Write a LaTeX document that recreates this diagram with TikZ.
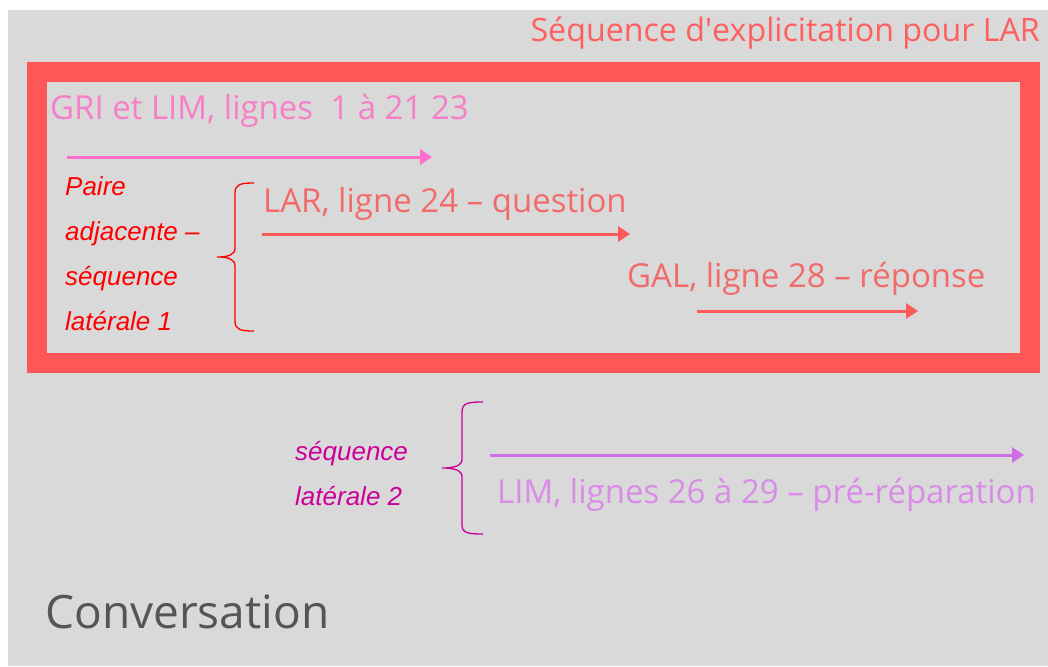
\documentclass[tikz,border=0pt]{standalone}
\usepackage{fontspec}
\setmainfont{Open Sans}
\newfontfamily\armain{Liberation Sans}
\usetikzlibrary{arrows.meta}
\definecolor{bgray}{HTML}{D9D9D9}
\definecolor{framered}{HTML}{FF5757}
\definecolor{titlered}{HTML}{FF5F5F}
\definecolor{pinktxt}{HTML}{F77FC8}
\definecolor{pinkarr}{HTML}{FF6ECF}
\definecolor{salmontxt}{HTML}{F26B6B}
\definecolor{salmonarr}{HTML}{FF5A5A}
\definecolor{violettxt}{HTML}{D98CE6}
\definecolor{violetarr}{HTML}{CF6FE8}
\definecolor{mag}{HTML}{CC0099}
\definecolor{convgray}{HTML}{555555}
\tikzset{
  lbl/.style={anchor=base west, inner sep=0pt, font=\fontsize{33}{33}\selectfont},
  ital/.style={anchor=base west, inner sep=0pt, font=\armain\itshape\fontsize{26}{26}\selectfont},
  arr/.style={line width=3pt, -{Triangle[length=12pt,width=15pt]}},
  brace/.style={line width=1.3pt}
}
\begin{document}
\begin{tikzpicture}[x=1pt,y=-1pt]
\useasboundingbox (0,0) rectangle (1048,666);
\fill[white] (0,0) rectangle (1048,666);
\fill[bgray] (8,10) rectangle (1048,666);
% red frame
\draw[framered, line width=20pt] (37,72) rectangle (1030,363);
% title
\node[anchor=base east, inner sep=0pt, font=\fontsize{32.2}{32.2}\selectfont, text=titlered] (title) at (1040,42) {Séquence d\textquotesingle explicitation pour LAR};
% GRI
\node[lbl, text=pinktxt] (gri) at (50,120) {GRI et LIM, lignes \ 1 à 21 23};
\coordinate (g1) at (67,157);
\coordinate (g2) at (432,157);
\draw[arr, pinkarr] (g1) -- (g2);
% italic labels 1
\node[ital, text=red] (p1) at (65,195) {Paire};
\node[ital, text=red] (p2) at (65,240) {adjacente –};
\node[ital, text=red] (p3) at (65,285) {séquence};
\node[ital, text=red] (p4) at (65,330) {latérale 1};
% brace 1
\draw[brace, red] (254,183) .. controls (241,183) and (235,184) .. (235,193) -- (235,248)
  .. controls (235,255) and (228,257) .. (217,257)
  .. controls (228,257) and (235,259) .. (235,266) -- (235,321)
  .. controls (235,330) and (241,331) .. (254,331);
% LAR
\node[lbl, text=salmontxt] (lar) at (263,212) {LAR, ligne 24 – question};
\coordinate (l1) at (262,234);
\coordinate (l2) at (630,234);
\draw[arr, salmonarr] (l1) -- (l2);
% GAL
\node[lbl, text=salmontxt] (gal) at (627,287) {GAL, ligne 28 – réponse};
\coordinate (a1) at (697,311);
\coordinate (a2) at (918,311);
\draw[arr, salmonarr] (a1) -- (a2);
% italic labels 2
\node[ital, text=mag] (s1) at (295,460) {séquence};
\node[ital, text=mag] (s2) at (295,505) {latérale 2};
% brace 2
\draw[brace, mag] (483,402) .. controls (468,402) and (462,403) .. (462,412) -- (462,459)
  .. controls (462,466) and (454,468) .. (442,468)
  .. controls (454,468) and (462,470) .. (462,477) -- (462,525)
  .. controls (462,533) and (468,534) .. (483,534);
% LIM
\coordinate (m1) at (490,455);
\coordinate (m2) at (1024,455);
\draw[arr, violetarr] (m1) -- (m2);
\node[lbl, text=violettxt] (lim) at (497,503) {LIM, lignes 26 à 29 – pré-réparation};
% Conversation
\node[anchor=base west, inner sep=0pt, font=\fontsize{46}{46}\selectfont, text=convgray] (conv) at (45,628) {Conversation};
\end{tikzpicture}
\end{document}
